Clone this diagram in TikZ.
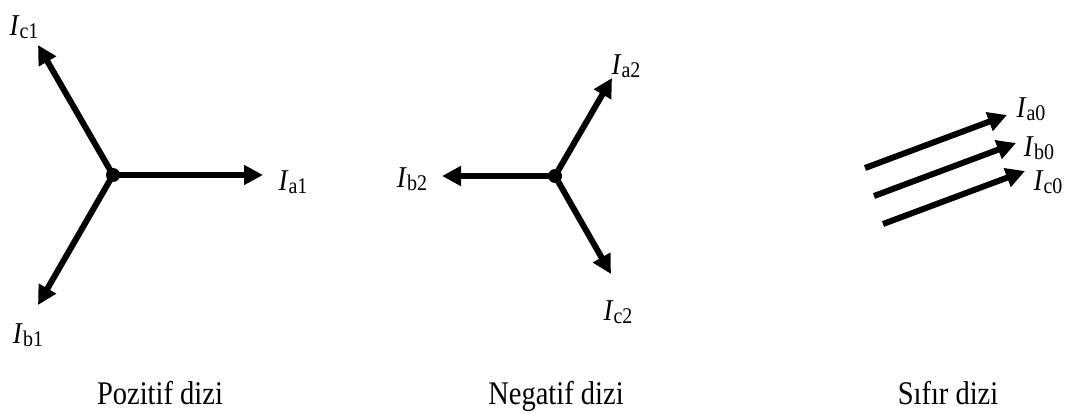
\documentclass[tikz,border=0pt]{standalone}
\usepackage{fontspec}
\setmainfont{Liberation Serif}
\usetikzlibrary{arrows.meta}
\newcommand{\cur}[2]{\scalebox{1}[1.12]{\textit{#1}\raisebox{-3pt}{\fontsize{20}{22}\selectfont #2}}}
\newcommand{\tallcap}[1]{\scalebox{0.95}[1.1]{#1}}
\begin{document}
\begin{tikzpicture}[x=1pt,y=-1pt,
  vec/.style={line width=6pt,-{Triangle[length=19pt,width=19pt]}},
  lbl/.style={inner sep=0pt,font=\fontsize{27}{30}\selectfont},
  captext/.style={inner sep=0pt,anchor=base,font=\fontsize{30}{34}\selectfont},
  hub/.style={circle,fill=black,inner sep=0pt,minimum size=14pt}]
\useasboundingbox (0,0) rectangle (1067,414);
% Positive sequence
\node[hub] (o1) at (113,175) {};
\coordinate (a1) at (263,175);
\coordinate (b1) at (38,305);
\coordinate (c1) at (38,45);
\draw[vec] (o1.center) -- (a1);
\draw[vec] (o1.center) -- (b1);
\draw[vec] (o1.center) -- (c1);
\node[lbl] (la1) at (293,182) {\cur{I}{a1}};
\node[lbl] (lb1) at (28,335) {\cur{I}{b1}};
\node[lbl] (lc1) at (24,27) {\cur{I}{c1}};
% Negative sequence
\node[hub] (o2) at (555,176) {};
\coordinate (b2) at (442,176);
\coordinate (a2) at (612,78);
\coordinate (c2) at (611,274);
\draw[vec] (o2.center) -- (a2);
\draw[vec] (o2.center) -- (b2);
\draw[vec] (o2.center) -- (c2);
\node[lbl] (la2) at (626,66) {\cur{I}{a2}};
\node[lbl] (lb2) at (412,179) {\cur{I}{b2}};
\node[lbl] (lc2) at (618,312) {\cur{I}{c2}};
% Zero sequence
\coordinate (sa) at (865,168);
\coordinate (ta) at (1007,115);
\coordinate (sb) at (874,196);
\coordinate (tb) at (1016,143);
\coordinate (sc) at (883,224);
\coordinate (tc) at (1025,171);
\draw[vec] (sa) -- (ta);
\draw[vec] (sb) -- (tb);
\draw[vec] (sc) -- (tc);
\node[lbl] (la0) at (1031,109) {\cur{I}{a0}};
\node[lbl] (lb0) at (1039,148) {\cur{I}{b0}};
\node[lbl] (lc0) at (1048,182) {\cur{I}{c0}};
% Captions
\node[captext] (p) at (160,404) {\tallcap{Pozitif dizi}};
\node[captext] (n) at (556,404) {\tallcap{Negatif dizi}};
\node[captext] (z) at (948,404) {\tallcap{Sıfır dizi}};
\end{tikzpicture}
\end{document}
